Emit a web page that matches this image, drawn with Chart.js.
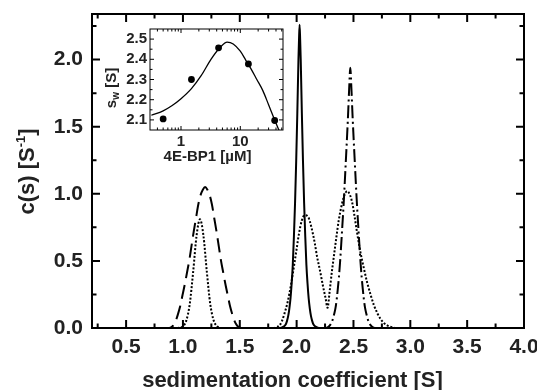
<!DOCTYPE html>
<html><head><meta charset="utf-8">
<script src="https://cdn.jsdelivr.net/npm/chart.js@4.4.0/dist/chart.umd.min.js"></script>
<style>
html,body{margin:0;padding:0;background:#fff;}
#wrap{position:relative;width:537px;height:390px;overflow:hidden;}
#main{position:absolute;left:0;top:0;}
#inset{position:absolute;left:95px;top:22px;}
</style></head>
<body><div id="wrap"><canvas id="main" width="537" height="390"></canvas><canvas id="inset" width="195" height="148"></canvas></div>
<script>
// ---- main chart data: sedimentation coefficient [S] vs c(s) ----
const solidX = [1.75, 1.856, 1.886, 1.906, 1.916, 1.926, 1.936, 1.946, 1.956, 1.966, 1.976, 1.986, 1.996, 2.006, 2.016, 2.021, 2.026, 2.031, 2.036, 2.046, 2.056, 2.066, 2.076, 2.086, 2.096, 2.106, 2.116, 2.126, 2.136, 2.146, 2.166, 2.196, 2.30];
const solidY = [0, 0, 0.01, 0.03, 0.055, 0.09, 0.145, 0.22, 0.33, 0.47, 0.68, 0.93, 1.24, 1.60, 2.00, 2.15, 2.26, 2.15, 2.00, 1.60, 1.24, 0.93, 0.68, 0.47, 0.33, 0.22, 0.145, 0.09, 0.055, 0.03, 0.01, 0, 0];

const dashX = [0.80, 0.865, 0.895, 0.915, 0.935, 0.955, 0.975, 0.995, 1.015, 1.035, 1.055, 1.075, 1.095, 1.115, 1.135, 1.155, 1.175, 1.195, 1.215, 1.235, 1.255, 1.275, 1.295, 1.315, 1.335, 1.355, 1.375, 1.395, 1.415, 1.435, 1.455, 1.475, 1.495, 1.525, 1.60];
const dashY = [0, 0, 0.005, 0.02, 0.05, 0.10, 0.16, 0.24, 0.32, 0.41, 0.50, 0.61, 0.72, 0.82, 0.92, 0.99, 1.03, 1.05, 1.03, 0.99, 0.92, 0.82, 0.72, 0.61, 0.50, 0.41, 0.32, 0.24, 0.16, 0.10, 0.05, 0.02, 0.005, 0, 0];

const dashDotX = [2.20, 2.242, 2.272, 2.292, 2.312, 2.332, 2.342, 2.352, 2.362, 2.372, 2.382, 2.392, 2.402, 2.412, 2.422, 2.432, 2.442, 2.452, 2.462, 2.472, 2.482, 2.492, 2.502, 2.512, 2.522, 2.532, 2.542, 2.552, 2.562, 2.572, 2.582, 2.592, 2.602, 2.612, 2.632, 2.652, 2.672, 2.702, 2.75];
const dashDotY = [0, 0, 0.005, 0.02, 0.05, 0.11, 0.15, 0.21, 0.29, 0.38, 0.49, 0.62, 0.76, 0.90, 1.06, 1.23, 1.40, 1.58, 1.78, 1.94, 1.78, 1.58, 1.40, 1.23, 1.06, 0.90, 0.76, 0.62, 0.49, 0.38, 0.29, 0.21, 0.15, 0.11, 0.05, 0.02, 0.005, 0, 0];

const dotX = [0.95, 1.00, 1.03, 1.06, 1.09, 1.12, 1.15, 1.18, 1.21, 1.24, 1.27, 1.30, 1.33, 1.80, 1.82, 1.85, 1.87, 1.89, 1.92, 1.95, 1.98, 2.00, 2.02, 2.045, 2.07, 2.10, 2.13, 2.16, 2.18, 2.205, 2.23, 2.255, 2.272, 2.29, 2.31, 2.33, 2.35, 2.37, 2.40, 2.42, 2.445, 2.47, 2.49, 2.51, 2.53, 2.56, 2.59, 2.62, 2.65, 2.68, 2.71, 2.74, 2.77, 2.80, 2.83, 2.87, 2.95];
const dotY = [0, 0.013, 0.057, 0.18, 0.42, 0.69, 0.81, 0.69, 0.42, 0.18, 0.057, 0.013, 0, 0, 0.005, 0.02, 0.05, 0.10, 0.19, 0.32, 0.48, 0.59, 0.70, 0.80, 0.84, 0.83, 0.75, 0.63, 0.53, 0.43, 0.32, 0.22, 0.15, 0.27, 0.42, 0.55, 0.68, 0.80, 0.93, 0.99, 1.02, 0.99, 0.93, 0.83, 0.72, 0.57, 0.45, 0.34, 0.25, 0.17, 0.11, 0.065, 0.035, 0.018, 0.008, 0, 0];

const xTickLabels = [0.5, 1.0, 1.5, 2.0, 2.5, 3.0, 3.5, 4.0];
const xMinorTicks = [0.25, 0.75, 1.25, 1.75, 2.25, 2.75, 3.25, 3.75];
const yTickLabels = [0.0, 0.5, 1.0, 1.5, 2.0];
const yMinorTicks = [0.25, 0.75, 1.25, 1.75, 2.25];
const xTitle = 'sedimentation coefficient [S]';

// ---- inset data: 4E-BP1 [µM] vs s_w [S] ----
const insetConc = [0.5, 1.5, 4.3, 13.7, 38];
const insetSw = [2.105, 2.30, 2.457, 2.377, 2.097];
const fitConc = [0.316, 0.5, 0.7, 1.0, 1.5, 2.2, 3.2, 4.6, 6.0, 7.6, 10, 12.4, 15, 19, 24, 30, 38, 45, 52.5];
const fitSw = [2.123, 2.145, 2.17, 2.205, 2.255, 2.32, 2.40, 2.46, 2.485, 2.476, 2.44, 2.395, 2.355, 2.30, 2.245, 2.175, 2.10, 2.048, 2.00];
const insetXTickLabels = [1, 10];
const insetXMinor = [0.4, 0.5, 0.6, 0.7, 0.8, 0.9, 2, 3, 4, 5, 6, 7, 8, 9, 20, 30, 40, 50];
const insetYTickLabels = [2.1, 2.2, 2.3, 2.4, 2.5];
const insetYMinor = [2.15, 2.25, 2.35, 2.45];
const insetXTitle = '4E-BP1 [\u00b5M]';

const FONT = "'Liberation Sans', Arial, Helvetica, sans-serif";
const TEXT = '#222';
const pts = (xs, ys) => xs.map((x, i) => ({x: x, y: ys[i]}));

function frameTicks(chart, o) {
  const {ctx, chartArea: a, scales} = chart;
  const xs = scales.x, ys = scales.y;
  ctx.save();
  ctx.strokeStyle = '#000';
  ctx.lineWidth = o.lw;
  ctx.lineCap = 'butt';
  ctx.beginPath();
  const vx = (vals, len) => vals.forEach(v => {
    const p = xs.getPixelForValue(v);
    if (p < a.left - 0.5 || p > a.right + 0.5) return;
    ctx.moveTo(p, a.bottom); ctx.lineTo(p, a.bottom - len);
    ctx.moveTo(p, a.top); ctx.lineTo(p, a.top + len);
  });
  const vy = (vals, len) => vals.forEach(v => {
    const p = ys.getPixelForValue(v);
    if (p < a.top - 0.5 || p > a.bottom + 0.5) return;
    ctx.moveTo(a.left, p); ctx.lineTo(a.left + len, p);
    ctx.moveTo(a.right, p); ctx.lineTo(a.right - len, p);
  });
  vx(o.xMajor, o.major); vx(o.xMinor, o.minor);
  vy(o.yMajor, o.major); vy(o.yMinor, o.minor);
  ctx.stroke();
  ctx.strokeRect(a.left, a.top, a.right - a.left, a.bottom - a.top);
  ctx.restore();
}

function rotTitle(ctx, baseX, cy, parts) {
  ctx.save();
  ctx.translate(baseX, cy);
  ctx.rotate(-Math.PI / 2);
  ctx.fillStyle = TEXT;
  ctx.textBaseline = 'alphabetic';
  let total = 0;
  parts.forEach(p => { ctx.font = 'bold ' + p.size + 'px ' + FONT; p.w = ctx.measureText(p.t).width; total += p.w; });
  let x = -total / 2;
  parts.forEach(p => { ctx.font = 'bold ' + p.size + 'px ' + FONT; ctx.fillText(p.t, x, p.dy); x += p.w; });
  ctx.restore();
}

function hTitle(ctx, text, cx, cy, size) {
  ctx.save();
  ctx.fillStyle = TEXT;
  ctx.font = 'bold ' + size + 'px ' + FONT;
  ctx.textAlign = 'center';
  ctx.textBaseline = 'middle';
  ctx.fillText(text, cx, cy);
  ctx.restore();
}

const tickFont = (s) => ({family: FONT, size: s, weight: 'bold'});
const fixX = (h) => (s) => { s.height = h; s.paddingLeft = 0; s.paddingRight = 0; s.paddingTop = 0; s.paddingBottom = 0; };
const fixY = (w) => (s) => { s.width = w; s.paddingLeft = 0; s.paddingRight = 0; s.paddingTop = 0; s.paddingBottom = 0; };

new Chart(document.getElementById('main'), {
  type: 'line',
  data: {datasets: [
    {label: 'solid', data: pts(solidX, solidY), borderColor: '#000', borderWidth: 2, pointRadius: 0, cubicInterpolationMode: 'monotone', fill: false},
    {label: 'dashed', data: pts(dashX, dashY), borderColor: '#000', borderWidth: 2, borderDash: [14, 7], pointRadius: 0, cubicInterpolationMode: 'monotone', fill: false},
    {label: 'dash-dot', data: pts(dashDotX, dashDotY), borderColor: '#000', borderWidth: 2, borderDash: [13, 3.5, 2, 3.5], pointRadius: 0, cubicInterpolationMode: 'monotone', fill: false},
    {label: 'dotted', data: pts(dotX, dotY), borderColor: '#000', borderWidth: 2, borderDash: [2, 1.8], pointRadius: 0, cubicInterpolationMode: 'monotone', fill: false}
  ]},
  options: {
    responsive: false, animation: false, devicePixelRatio: 1,
    layout: {padding: {left: 0, right: 13, top: 14, bottom: 0}},
    plugins: {legend: {display: false}, tooltip: {enabled: false}},
    scales: {
      x: {
        type: 'linear', min: 0.2, max: 4.0,
        afterBuildTicks: s => { s.ticks = xTickLabels.map(v => ({value: v})); },
        afterFit: fixX(62),
        grid: {display: false, drawTicks: false}, border: {display: false},
        ticks: {padding: 6.5, font: tickFont(21), color: TEXT, autoSkip: false, maxRotation: 0, callback: v => Number(v).toFixed(1)},
        title: {display: false, text: xTitle}
      },
      y: {
        type: 'linear', min: 0, max: 2.34,
        afterBuildTicks: s => { s.ticks = yTickLabels.map(v => ({value: v})); },
        afterFit: fixY(92),
        grid: {display: false, drawTicks: false}, border: {display: false},
        ticks: {padding: 9, font: tickFont(21), color: TEXT, autoSkip: false, callback: v => Number(v).toFixed(1)},
        title: {display: false, text: 'c(s) [S-1]'}
      }
    }
  },
  plugins: [{
    id: 'mainFrame',
    afterDatasetsDraw(chart) {
      frameTicks(chart, {lw: 2, major: 8, minor: 4.5, xMajor: xTickLabels, xMinor: xMinorTicks, yMajor: yTickLabels, yMinor: yMinorTicks});
    },
    afterDraw(chart) {
      rotTitle(chart.ctx, 34, 171.5, [
        {t: 'c(s) [S', size: 22, dy: 0},
        {t: '-1', size: 13, dy: -9},
        {t: ']', size: 22, dy: 0}
      ]);
      hTitle(chart.ctx, xTitle, 292.5, 381, 22);
    }
  }]
});

new Chart(document.getElementById('inset'), {
  type: 'scatter',
  data: {datasets: [
    {type: 'line', label: 'fit', data: pts(fitConc, fitSw), borderColor: '#000', borderWidth: 1.3, pointRadius: 0, cubicInterpolationMode: 'monotone', fill: false},
    {type: 'scatter', label: 's_w', data: pts(insetConc, insetSw), pointRadius: 3.4, backgroundColor: '#000', borderWidth: 0}
  ]},
  options: {
    responsive: false, animation: false, devicePixelRatio: 1,
    layout: {padding: {left: 0, right: 7, top: 7, bottom: 0}},
    plugins: {legend: {display: false}, tooltip: {enabled: false}},
    scales: {
      x: {
        type: 'logarithmic', min: 0.316, max: 52.5,
        afterBuildTicks: s => { s.ticks = insetXTickLabels.map(v => ({value: v})); },
        afterFit: fixX(40),
        grid: {display: false, drawTicks: false}, border: {display: false},
        ticks: {padding: 3, font: tickFont(15), color: TEXT, autoSkip: false, maxRotation: 0, callback: v => String(v)},
        title: {display: false, text: insetXTitle}
      },
      y: {
        type: 'linear', min: 2.05, max: 2.55,
        afterBuildTicks: s => { s.ticks = insetYTickLabels.map(v => ({value: v})); },
        afterFit: fixY(55),
        grid: {display: false, drawTicks: false}, border: {display: false},
        ticks: {padding: 3, font: tickFont(15), color: TEXT, autoSkip: false, callback: v => Number(v).toFixed(1)},
        title: {display: false, text: 's_w [S]'}
      }
    }
  },
  plugins: [{
    id: 'insetFrame',
    afterDatasetsDraw(chart) {
      frameTicks(chart, {lw: 1, major: 4, minor: 2.5, xMajor: insetXTickLabels, xMinor: insetXMinor, yMajor: insetYTickLabels, yMinor: insetYMinor});
    },
    afterDraw(chart) {
      rotTitle(chart.ctx, 20.5, 66, [
        {t: 's', size: 15, dy: 0},
        {t: 'w', size: 10, dy: 3},
        {t: ' [S]', size: 15, dy: 0}
      ]);
      hTitle(chart.ctx, insetXTitle, 112.5, 135, 15);
    }
  }]
});
</script></body></html>
